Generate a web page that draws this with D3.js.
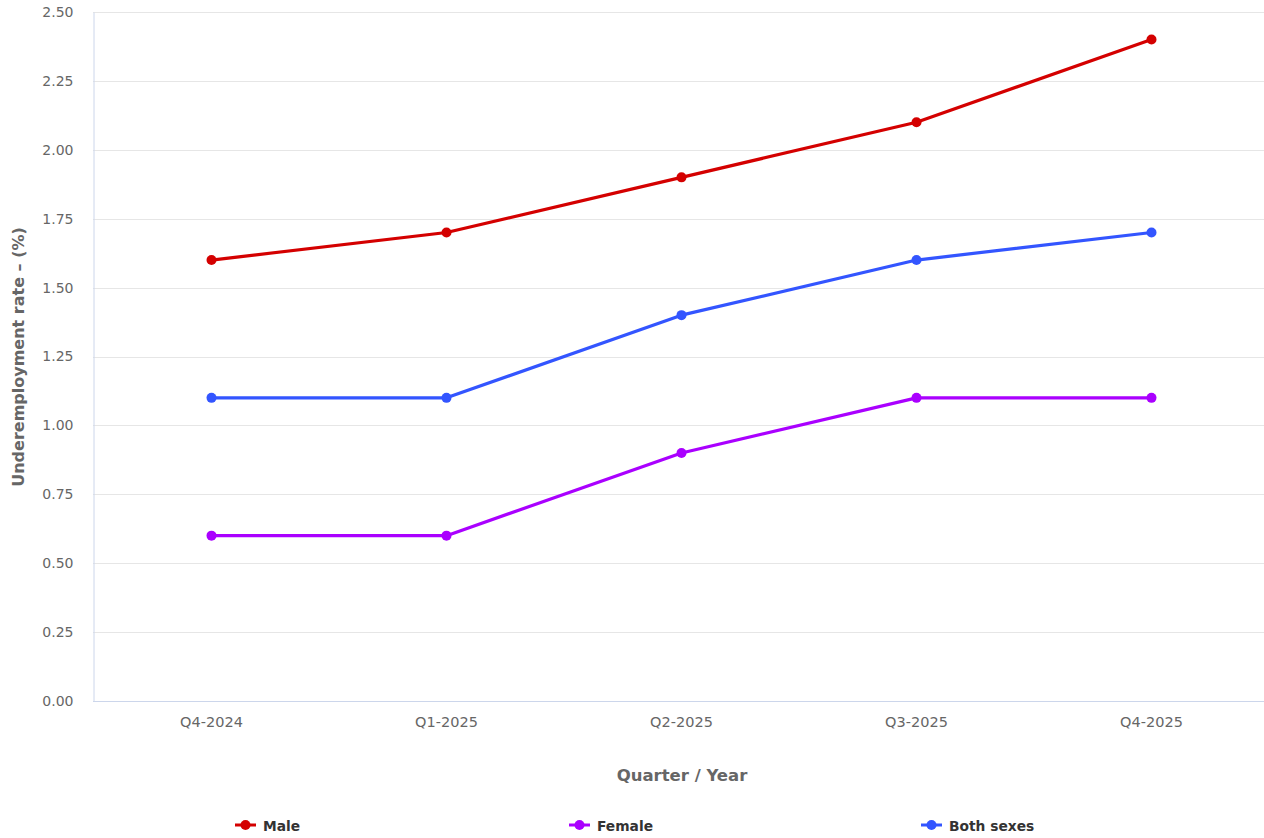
<!DOCTYPE html>
<html>
<head>
    <script src="https://d3js.org/d3.v7.min.js"></script>
    <style>
        body { margin: 0; background: #ffffff; font-family: 'DejaVu Sans', Verdana, sans-serif; }
    </style>
</head>
<body>
    <svg id="chart" width="1264" height="838"></svg>
    <script>
        // data
        var quarters = ["Q4-2024", "Q1-2025", "Q2-2025", "Q3-2025", "Q4-2025"];
        var male = [1.6, 1.7, 1.9, 2.1, 2.4];
        var female = [0.6, 0.6, 0.9, 1.1, 1.1];
        var both = [1.1, 1.1, 1.4, 1.6, 1.7];
        var seriesNames = ["Male", "Female", "Both sexes"];
        var seriesColors = ["#d40000", "#aa00ff", "#3355ff"];
        var yTicks = [0, 0.25, 0.5, 0.75, 1, 1.25, 1.5, 1.75, 2, 2.25, 2.5];

        var series = [male, female, both].map(function (vals, k) {
            return { name: seriesNames[k], color: seriesColors[k], values: vals };
        });

        var svg = d3.select("#chart");
        var plotLeft = 93, plotRight = 1268, plotTop = 12, plotBottom = 701;

        var xScale = d3.scaleBand()
            .domain(quarters)
            .range([plotLeft + 1, plotRight + 1]);
        var yScale = d3.scaleLinear()
            .domain([0, 2.5])
            .range([plotBottom, plotTop]);

        // grid lines
        svg.append("g")
            .selectAll("line")
            .data(yTicks.slice(1))
            .enter()
            .append("line")
            .attr("x1", plotLeft)
            .attr("x2", 1264)
            .attr("y1", function (d) { return Math.round(yScale(d)) + 0.5; })
            .attr("y2", function (d) { return Math.round(yScale(d)) + 0.5; })
            .style("stroke", "#e6e6e6")
            .style("stroke-width", "1px");

        // y axis
        var yAxis = d3.axisLeft(yScale)
            .tickValues(yTicks)
            .tickFormat(d3.format(".2f"))
            .tickSize(0)
            .tickPadding(20);
        var gy = svg.append("g")
            .attr("transform", "translate(" + (plotLeft + 0.5) + ",0)")
            .call(yAxis);
        gy.select(".domain").style("stroke", "#ccd6eb");
        gy.selectAll("text")
            .style("font-family", "'DejaVu Sans', sans-serif")
            .style("font-size", "14px")
            .style("fill", "#666666");

        // x axis
        var xAxis = d3.axisBottom(xScale)
            .tickSize(0)
            .tickPadding(15);
        var gx = svg.append("g")
            .attr("transform", "translate(0," + (plotBottom + 0.5) + ")")
            .call(xAxis);
        gx.select(".domain")
            .attr("d", "M" + plotLeft + ",0H1264")
            .style("stroke", "#ccd6eb");
        gx.selectAll("text")
            .style("font-family", "'DejaVu Sans', sans-serif")
            .style("font-size", "14.5px")
            .style("fill", "#666666");

        // axis titles
        svg.append("text")
            .attr("x", 682)
            .attr("y", 781)
            .attr("text-anchor", "middle")
            .style("font-family", "'DejaVu Sans', sans-serif")
            .style("font-size", "16.5px")
            .style("font-weight", "bold")
            .style("fill", "#666666")
            .text("Quarter / Year");

        svg.append("text")
            .attr("transform", "translate(24,357) rotate(-90)")
            .attr("text-anchor", "middle")
            .style("font-family", "'DejaVu Sans', sans-serif")
            .style("font-size", "16px")
            .style("font-weight", "bold")
            .style("fill", "#666666")
            .text("Underemployment rate – (%)");

        // lines and markers
        var line = d3.line()
            .x(function (d, i) { return xScale(quarters[i]) + xScale.bandwidth() / 2; })
            .y(function (d) { return yScale(d); });

        series.forEach(function (s) {
            svg.append("path")
                .datum(s.values)
                .attr("d", line)
                .style("fill", "none")
                .style("stroke", s.color)
                .style("stroke-width", "3.2px")
                .style("stroke-linejoin", "round");

            svg.append("g")
                .selectAll("circle")
                .data(s.values)
                .enter()
                .append("circle")
                .attr("cx", function (d, i) { return xScale(quarters[i]) + xScale.bandwidth() / 2; })
                .attr("cy", function (d) { return yScale(d); })
                .attr("r", 5)
                .style("fill", s.color);
        });

        // legend
        var legendX = [235, 569, 921];
        var legend = svg.append("g")
            .selectAll("g")
            .data(series)
            .enter()
            .append("g")
            .attr("transform", function (d, i) { return "translate(" + legendX[i] + ",825)"; });
        legend.append("line")
            .attr("x1", 0)
            .attr("x2", 21)
            .style("stroke", function (d) { return d.color; })
            .style("stroke-width", "3px");
        legend.append("circle")
            .attr("cx", 10.5)
            .attr("r", 5)
            .style("fill", function (d) { return d.color; });
        legend.append("text")
            .attr("x", 28)
            .attr("y", 5.5)
            .style("font-family", "'DejaVu Sans', sans-serif")
            .style("font-size", "13.8px")
            .style("font-weight", "bold")
            .style("fill", "#333333")
            .text(function (d) { return d.name; });
    </script>
</body>
</html>
